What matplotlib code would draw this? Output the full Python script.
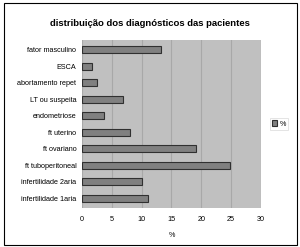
import matplotlib
matplotlib.use('Agg')
import matplotlib.pyplot as plt
from matplotlib.patches import Rectangle

plt.rcParams['font.family'] = ['Liberation Sans', 'DejaVu Sans']

categorias = ['infertilidade 1aria', 'infertilidade 2aria', 'ft tuboperitoneal',
              'ft ovariano', 'ft uterino', 'endometriose', 'LT ou suspeita',
              'abortamento repet', 'ESCA', 'fator masculino']
percentuais = [11.0, 10.0, 24.8, 19.1, 8.0, 3.7, 6.9, 2.5, 1.7, 13.2]
xticks = [0, 5, 10, 15, 20, 25, 30]

fig = plt.figure(figsize=(3.0, 2.47), dpi=100)
fig.patches.append(Rectangle((0.012, 0.01), 0.978, 0.978, transform=fig.transFigure,
                             fill=False, edgecolor='black', linewidth=0.8))

ax = fig.add_axes([0.273, 0.158, 0.597, 0.68])
ax.set_facecolor('#c0c0c0')
ax.barh(range(len(categorias)), percentuais, height=0.42, color='#808080',
        edgecolor='#303030', linewidth=0.8, label='%', zorder=3)
ax.set_xlim(0, 30)
ax.set_ylim(-0.6, len(categorias) - 0.4)
ax.set_xticks(xticks)
ax.set_xticklabels([str(t) for t in xticks], fontsize=5.2)
ax.set_yticks(range(len(categorias)))
ax.set_yticklabels(categorias, fontsize=5.2)
ax.tick_params(axis='y', length=0, pad=4)
ax.tick_params(axis='x', length=0, pad=6)
ax.grid(axis='x', color='#a8a8a8', linewidth=0.8, zorder=0)
for s in ax.spines.values():
    s.set_visible(False)
ax.set_xlabel('%', fontsize=5.2, labelpad=6)

fig.suptitle('distribuição dos diagnósticos das pacientes', fontsize=6.8,
             fontweight='bold', x=0.5, y=0.925)

leg = ax.legend(loc='center left', bbox_to_anchor=(1.03, 0.5), fontsize=5.2,
                frameon=True, handlelength=0.7, handleheight=0.7,
                borderpad=0.3, handletextpad=0.3, fancybox=False)
leg.get_frame().set_edgecolor('#d0d0d0')
leg.get_frame().set_linewidth(0.5)

fig.savefig('out.png', dpi=100)
